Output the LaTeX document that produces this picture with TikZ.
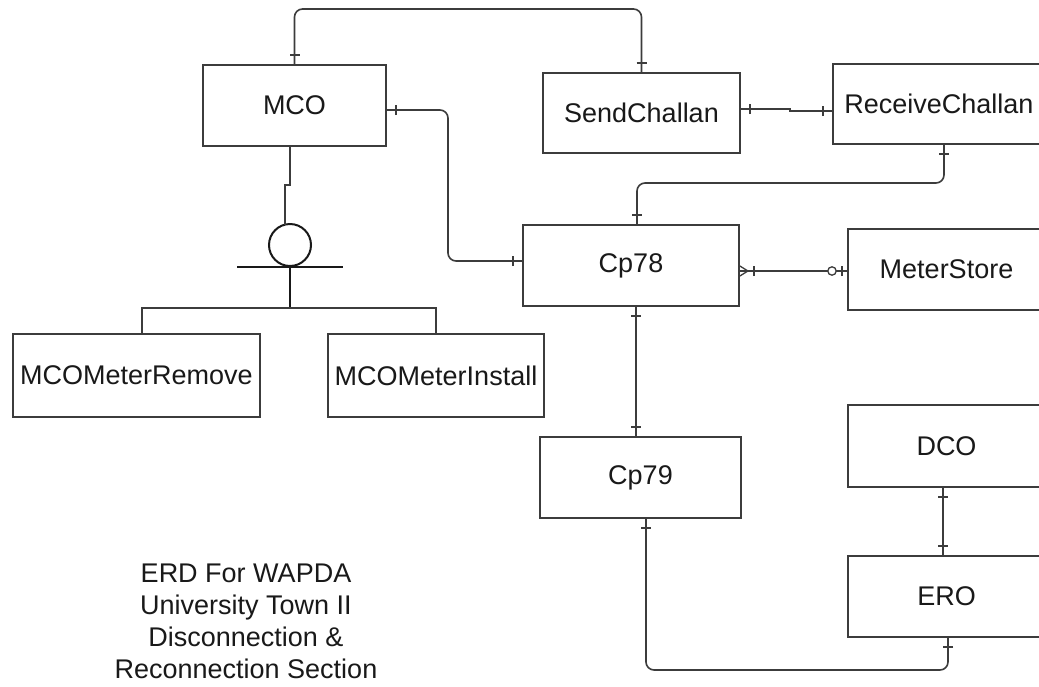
\documentclass[tikz,border=0pt]{standalone}
\usepackage{fontspec}
\setmainfont{Liberation Sans}
\usetikzlibrary{decorations.markings}

\definecolor{edge}{RGB}{60,60,60}
\definecolor{ink}{RGB}{25,25,25}

\tikzset{
  ent/.style={draw=edge, line width=1.8pt, rectangle, minimum height=81pt,
    inner sep=0pt, text=ink, font=\fontsize{27}{32}\selectfont},
  conn/.style={draw=edge, line width=1.6pt},
  tickat/.style={postaction={decorate, decoration={markings,
    mark=at position #1 with {\draw[conn] (0,-5pt) -- (0,5pt);}}}},
  ends/.style={tickat=9pt, tickat=-9pt},
}

\begin{document}
\begin{tikzpicture}[x=1pt, y=-1pt]
\clip (0,0) rectangle (1039,686);
\fill[white] (0,0) rectangle (1039,686);

% entities
\node[ent, minimum width=183pt] (mco)   at (294.5,105.5) {MCO};
\node[ent, minimum width=197pt, minimum height=80pt] (send) at (641.5,113) {SendChallan};
\node[ent, minimum width=212pt, minimum height=80pt] (recv) at (939,104) {ReceiveChallan};
\node[ent, minimum width=216pt] (cp78)  at (631,265.5) {Cp78};
\node[ent, minimum width=197pt] (meter) at (946.5,269.5) {MeterStore};
\node[ent, minimum width=201pt] (cp79)  at (640.5,477.5) {Cp79};
\node[ent, minimum width=197pt, minimum height=82pt] (dco) at (946.5,446) {DCO};
\node[ent, minimum width=197pt] (ero)   at (946.5,596.5) {ERO};
\node[ent, minimum width=247pt, minimum height=83pt] (mrem)  at (136.5,375.5) {MCOMeterRemove};
\node[ent, minimum width=216pt, minimum height=83pt] (minst) at (436,375.5) {MCOMeterInstall};

% specialisation of MCO
\node[circle, draw=black!90, line width=2pt, minimum size=42pt, inner sep=0pt] (isa) at (290,245) {};
\draw[conn] (mco.south -| 290,0) -- (290,185) -- (285,185) -- (285,224.6);
\draw[black!90, line width=2.2pt] (isa.south -| 237,0) -- (isa.south -| 343,0);
\draw[black!90, line width=2.2pt] (isa.south) -- (290,308) coordinate (split);
\draw[conn] (mrem.north -| 142,0) |- (split) -| (minst.north);

% relationships
\draw[conn, ends, rounded corners=8pt] (mco.north) -- (294.5,9) -| (send.north);
\draw[conn, ends, rounded corners=8pt] (mco.east |- 0,110) -- (448,110) -- (448,261) -- (cp78.west |- 0,261);
\draw[conn, ends] (send.east |- 0,109) -- (790,109) -- (790,111) -- (recv.west |- 0,111);
\draw[conn, ends, rounded corners=8pt] (recv.south -| 944,0) -- (944,183) -- (637,183) -- (cp78.north -| 637,0);
\draw[conn, ends] (cp78.south -| 636,0) -- (cp79.north -| 636,0);
\draw[conn, ends] (dco.south -| 943,0) -- (ero.north -| 943,0);
\draw[conn, ends, rounded corners=8pt] (cp79.south -| 646,0) -- (646,670) -- (948,670) -- (ero.south -| 948,0);

% Cp78 many -- zero-or-one MeterStore
\draw[conn, tickat=14pt, tickat=-5pt] (cp78.east |- 0,271) -- (meter.west |- 0,271);
\draw[conn, line width=1.3pt] ([yshift=5pt]cp78.east |- 0,271) -- ++(8pt,-5pt) -- ++(-8pt,-5pt);
\draw[conn, fill=white, line width=1.3pt] (832,271) circle (4.2pt);

% caption
\node[anchor=base, align=center, text=ink, font=\fontsize{27}{31.7}\selectfont]
  (title) at (246,678) {ERD For WAPDA\\University Town II\\Disconnection \&\\Reconnection Section};
\end{tikzpicture}
\end{document}
